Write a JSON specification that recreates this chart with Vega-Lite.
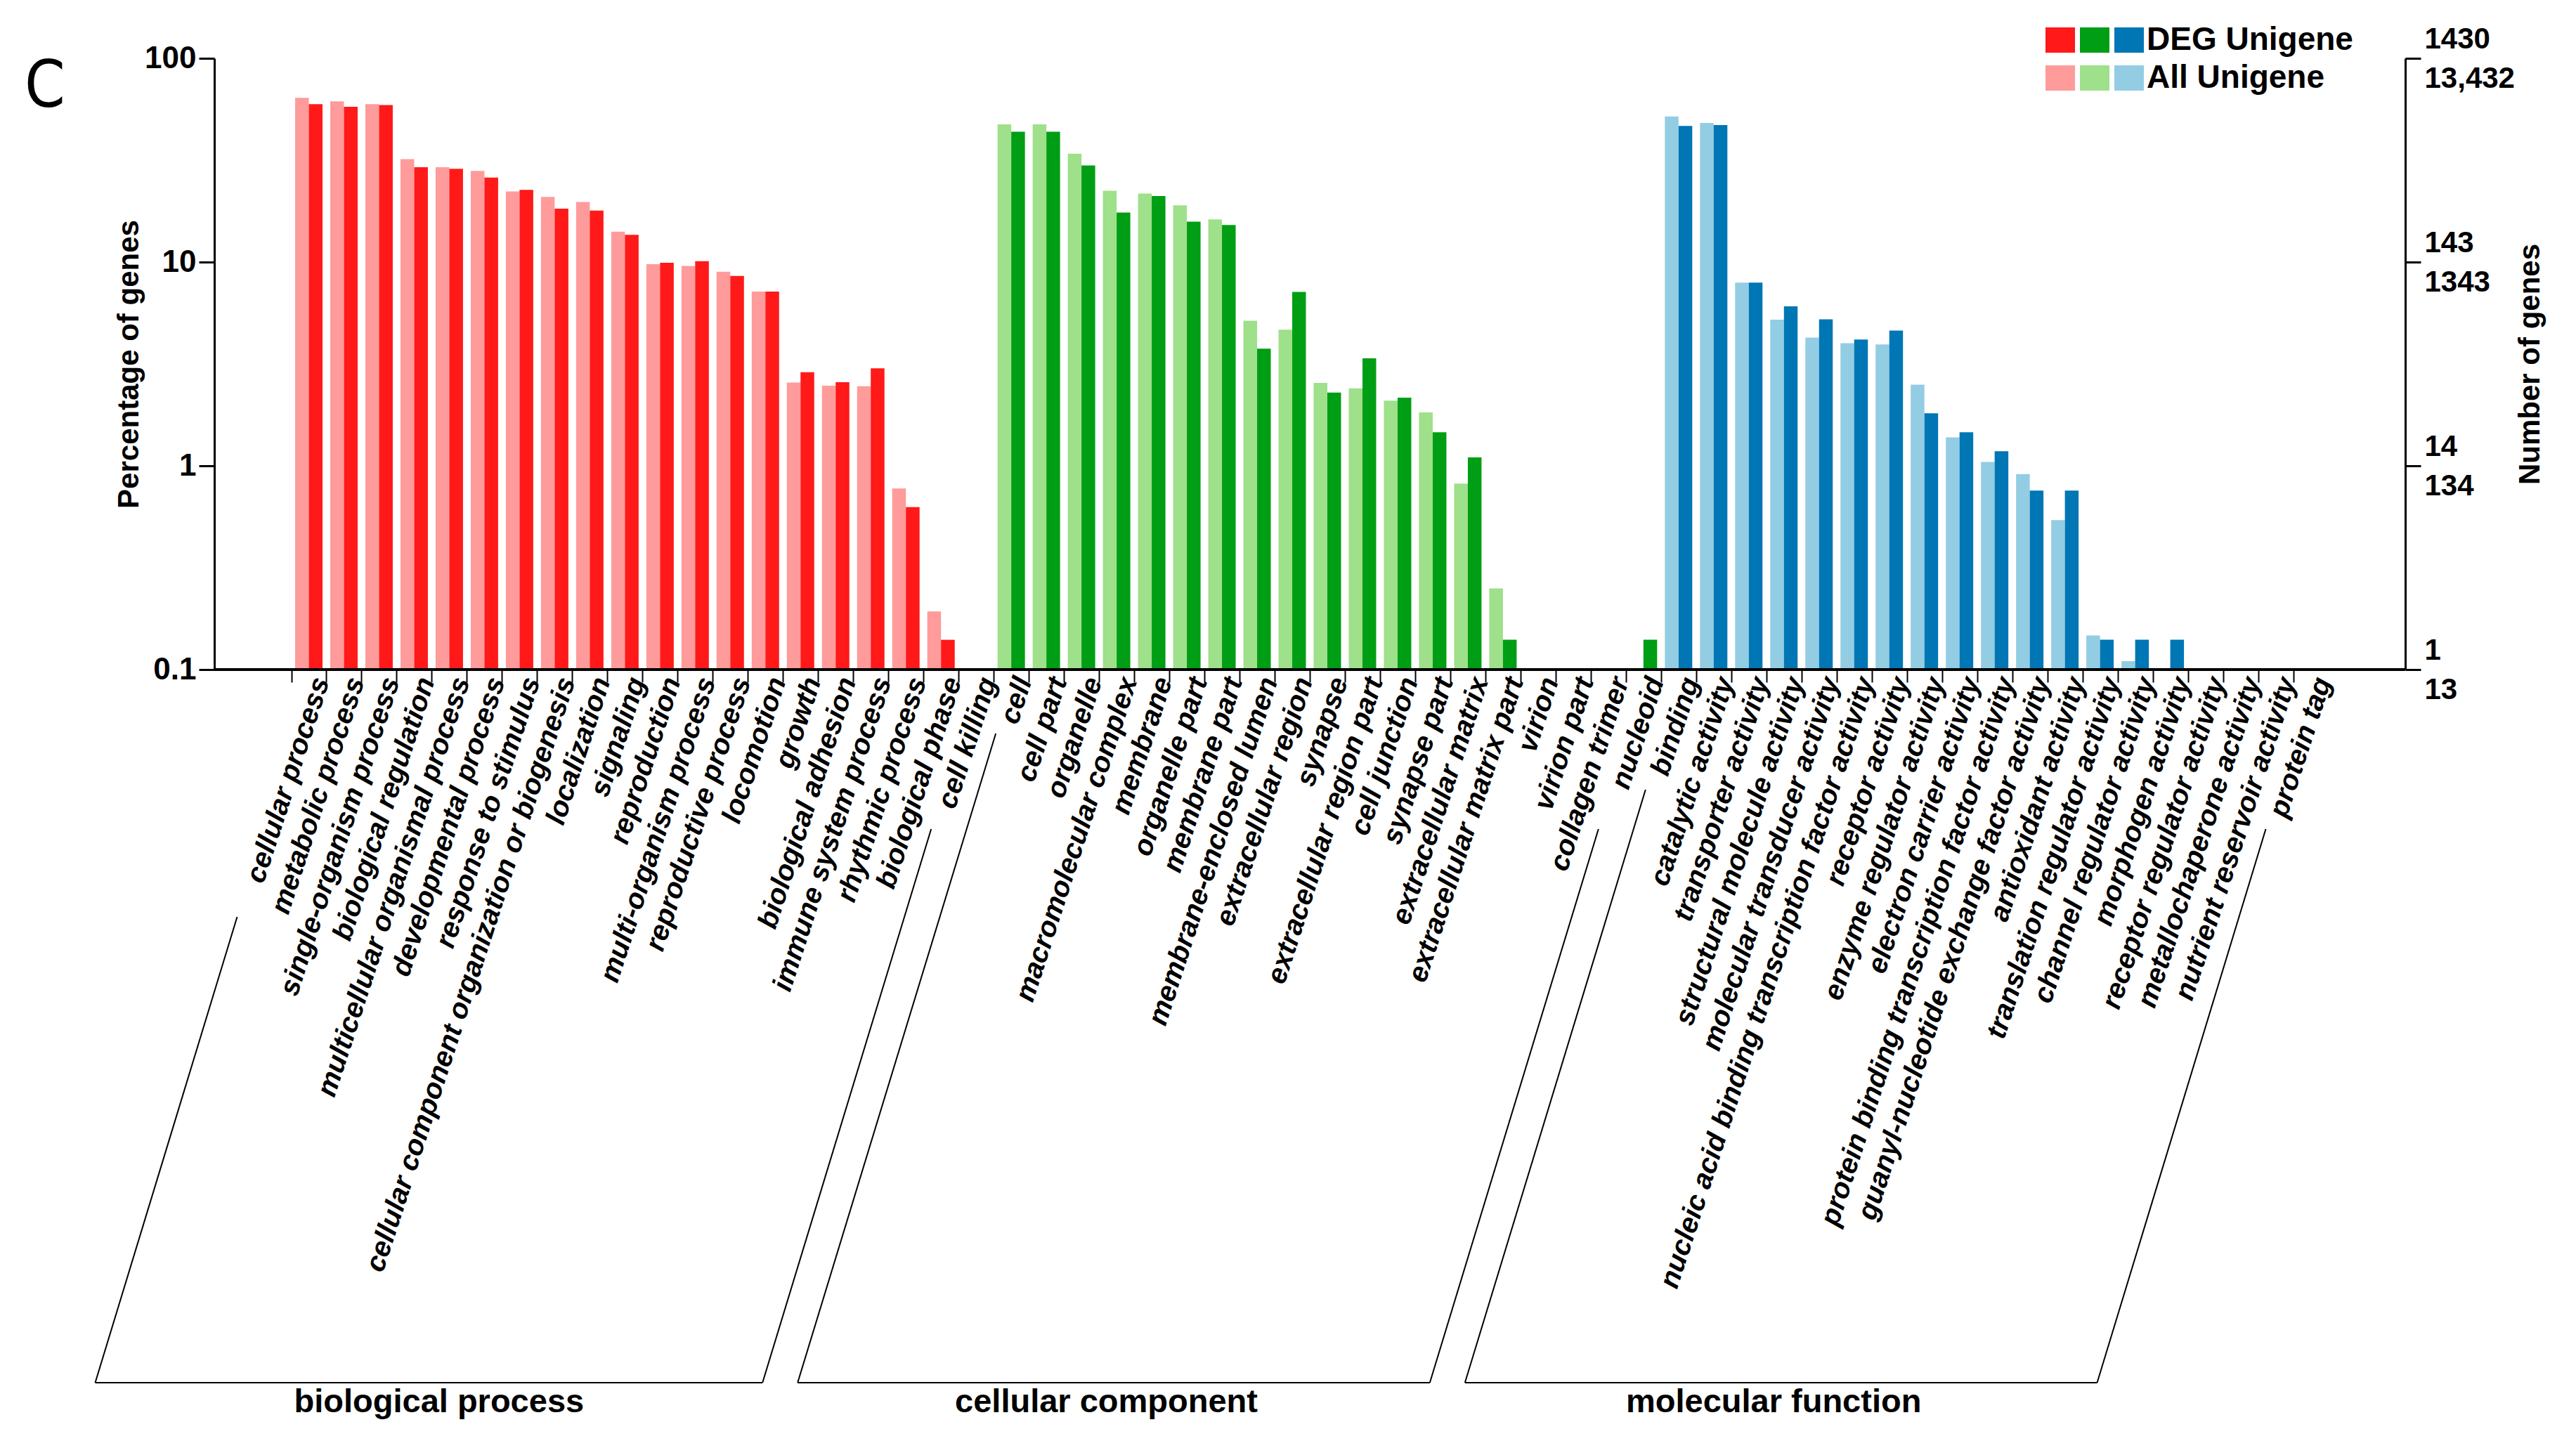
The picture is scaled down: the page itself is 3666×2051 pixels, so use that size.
{
  "$schema": "https://vega.github.io/schema/vega-lite/v6.json",
  "autosize": {"type": "none"},
  "width": 3118,
  "height": 870,
  "padding": {"left": 305, "top": 83, "right": 243, "bottom": 1098},
  "background": "white",
  "config": {"view": {"stroke": null}, "font": "Liberation Sans"},
  "title": {"text": "C", "anchor": "start", "frame": "group", "font": "DejaVu Sans Condensed", "fontSize": 92, "fontWeight": "normal", "color": "black", "baseline": "alphabetic", "offset": 0, "dx": -270, "dy": 210},
  "datasets": {
    "go": [
      {"term": "cellular process", "type": "All", "series": "BP All", "pct": 64.0},
      {"term": "cellular process", "type": "DEG", "series": "BP DEG", "pct": 59.6},
      {"term": "metabolic process", "type": "All", "series": "BP All", "pct": 61.5},
      {"term": "metabolic process", "type": "DEG", "series": "BP DEG", "pct": 57.8},
      {"term": "single-organism process", "type": "All", "series": "BP All", "pct": 59.6},
      {"term": "single-organism process", "type": "DEG", "series": "BP DEG", "pct": 59.0},
      {"term": "biological regulation", "type": "All", "series": "BP All", "pct": 32.0},
      {"term": "biological regulation", "type": "DEG", "series": "BP DEG", "pct": 29.2},
      {"term": "multicellular organismal process", "type": "All", "series": "BP All", "pct": 29.2},
      {"term": "multicellular organismal process", "type": "DEG", "series": "BP DEG", "pct": 28.7},
      {"term": "developmental process", "type": "All", "series": "BP All", "pct": 28.0},
      {"term": "developmental process", "type": "DEG", "series": "BP DEG", "pct": 26.0},
      {"term": "response to stimulus", "type": "All", "series": "BP All", "pct": 22.2},
      {"term": "response to stimulus", "type": "DEG", "series": "BP DEG", "pct": 22.6},
      {"term": "cellular component organization or biogenesis", "type": "All", "series": "BP All", "pct": 20.9},
      {"term": "cellular component organization or biogenesis", "type": "DEG", "series": "BP DEG", "pct": 18.3},
      {"term": "localization", "type": "All", "series": "BP All", "pct": 19.7},
      {"term": "localization", "type": "DEG", "series": "BP DEG", "pct": 17.9},
      {"term": "signaling", "type": "All", "series": "BP All", "pct": 14.1},
      {"term": "signaling", "type": "DEG", "series": "BP DEG", "pct": 13.6},
      {"term": "reproduction", "type": "All", "series": "BP All", "pct": 9.77},
      {"term": "reproduction", "type": "DEG", "series": "BP DEG", "pct": 9.92},
      {"term": "multi-organism process", "type": "All", "series": "BP All", "pct": 9.57},
      {"term": "multi-organism process", "type": "DEG", "series": "BP DEG", "pct": 10.1},
      {"term": "reproductive process", "type": "All", "series": "BP All", "pct": 8.96},
      {"term": "reproductive process", "type": "DEG", "series": "BP DEG", "pct": 8.55},
      {"term": "locomotion", "type": "All", "series": "BP All", "pct": 7.16},
      {"term": "locomotion", "type": "DEG", "series": "BP DEG", "pct": 7.16},
      {"term": "growth", "type": "All", "series": "BP All", "pct": 2.56},
      {"term": "growth", "type": "DEG", "series": "BP DEG", "pct": 2.88},
      {"term": "biological adhesion", "type": "All", "series": "BP All", "pct": 2.47},
      {"term": "biological adhesion", "type": "DEG", "series": "BP DEG", "pct": 2.57},
      {"term": "immune system process", "type": "All", "series": "BP All", "pct": 2.46},
      {"term": "immune system process", "type": "DEG", "series": "BP DEG", "pct": 3.01},
      {"term": "rhythmic process", "type": "All", "series": "BP All", "pct": 0.774},
      {"term": "rhythmic process", "type": "DEG", "series": "BP DEG", "pct": 0.627},
      {"term": "biological phase", "type": "All", "series": "BP All", "pct": 0.193},
      {"term": "biological phase", "type": "DEG", "series": "BP DEG", "pct": 0.14},
      {"term": "cell", "type": "All", "series": "CC All", "pct": 47.4},
      {"term": "cell", "type": "DEG", "series": "CC DEG", "pct": 43.6},
      {"term": "cell part", "type": "All", "series": "CC All", "pct": 47.4},
      {"term": "cell part", "type": "DEG", "series": "CC DEG", "pct": 43.6},
      {"term": "organelle", "type": "All", "series": "CC All", "pct": 34.0},
      {"term": "organelle", "type": "DEG", "series": "CC DEG", "pct": 29.8},
      {"term": "macromolecular complex", "type": "All", "series": "CC All", "pct": 22.4},
      {"term": "macromolecular complex", "type": "DEG", "series": "CC DEG", "pct": 17.5},
      {"term": "membrane", "type": "All", "series": "CC All", "pct": 21.7},
      {"term": "membrane", "type": "DEG", "series": "CC DEG", "pct": 21.1},
      {"term": "organelle part", "type": "All", "series": "CC All", "pct": 19.0},
      {"term": "organelle part", "type": "DEG", "series": "CC DEG", "pct": 15.8},
      {"term": "membrane part", "type": "All", "series": "CC All", "pct": 16.2},
      {"term": "membrane part", "type": "DEG", "series": "CC DEG", "pct": 15.2},
      {"term": "membrane-enclosed lumen", "type": "All", "series": "CC All", "pct": 5.15},
      {"term": "membrane-enclosed lumen", "type": "DEG", "series": "CC DEG", "pct": 3.76},
      {"term": "extracellular region", "type": "All", "series": "CC All", "pct": 4.66},
      {"term": "extracellular region", "type": "DEG", "series": "CC DEG", "pct": 7.13},
      {"term": "synapse", "type": "All", "series": "CC All", "pct": 2.55},
      {"term": "synapse", "type": "DEG", "series": "CC DEG", "pct": 2.29},
      {"term": "extracellular region part", "type": "All", "series": "CC All", "pct": 2.40},
      {"term": "extracellular region part", "type": "DEG", "series": "CC DEG", "pct": 3.37},
      {"term": "cell junction", "type": "All", "series": "CC All", "pct": 2.09},
      {"term": "cell junction", "type": "DEG", "series": "CC DEG", "pct": 2.16},
      {"term": "synapse part", "type": "All", "series": "CC All", "pct": 1.83},
      {"term": "synapse part", "type": "DEG", "series": "CC DEG", "pct": 1.46},
      {"term": "extracellular matrix", "type": "All", "series": "CC All", "pct": 0.818},
      {"term": "extracellular matrix", "type": "DEG", "series": "CC DEG", "pct": 1.10},
      {"term": "extracellular matrix part", "type": "All", "series": "CC All", "pct": 0.25},
      {"term": "extracellular matrix part", "type": "DEG", "series": "CC DEG", "pct": 0.14},
      {"term": "nucleoid", "type": "DEG", "series": "CC DEG", "pct": 0.14},
      {"term": "binding", "type": "All", "series": "MF All", "pct": 51.8},
      {"term": "binding", "type": "DEG", "series": "MF DEG", "pct": 46.6},
      {"term": "catalytic activity", "type": "All", "series": "MF All", "pct": 48.2},
      {"term": "catalytic activity", "type": "DEG", "series": "MF DEG", "pct": 47.0},
      {"term": "transporter activity", "type": "All", "series": "MF All", "pct": 7.93},
      {"term": "transporter activity", "type": "DEG", "series": "MF DEG", "pct": 7.93},
      {"term": "structural molecule activity", "type": "All", "series": "MF All", "pct": 5.21},
      {"term": "structural molecule activity", "type": "DEG", "series": "MF DEG", "pct": 6.07},
      {"term": "molecular transducer activity", "type": "All", "series": "MF All", "pct": 4.26},
      {"term": "molecular transducer activity", "type": "DEG", "series": "MF DEG", "pct": 5.24},
      {"term": "nucleic acid binding transcription factor activity", "type": "All", "series": "MF All", "pct": 4.00},
      {"term": "nucleic acid binding transcription factor activity", "type": "DEG", "series": "MF DEG", "pct": 4.17},
      {"term": "receptor activity", "type": "All", "series": "MF All", "pct": 3.94},
      {"term": "receptor activity", "type": "DEG", "series": "MF DEG", "pct": 4.61},
      {"term": "enzyme regulator activity", "type": "All", "series": "MF All", "pct": 2.50},
      {"term": "enzyme regulator activity", "type": "DEG", "series": "MF DEG", "pct": 1.81},
      {"term": "electron carrier activity", "type": "All", "series": "MF All", "pct": 1.38},
      {"term": "electron carrier activity", "type": "DEG", "series": "MF DEG", "pct": 1.46},
      {"term": "protein binding transcription factor activity", "type": "All", "series": "MF All", "pct": 1.045},
      {"term": "protein binding transcription factor activity", "type": "DEG", "series": "MF DEG", "pct": 1.18},
      {"term": "guanyl-nucleotide exchange factor activity", "type": "All", "series": "MF All", "pct": 0.911},
      {"term": "guanyl-nucleotide exchange factor activity", "type": "DEG", "series": "MF DEG", "pct": 0.756},
      {"term": "antioxidant activity", "type": "All", "series": "MF All", "pct": 0.541},
      {"term": "antioxidant activity", "type": "DEG", "series": "MF DEG", "pct": 0.756},
      {"term": "translation regulator activity", "type": "All", "series": "MF All", "pct": 0.147},
      {"term": "translation regulator activity", "type": "DEG", "series": "MF DEG", "pct": 0.14},
      {"term": "channel regulator activity", "type": "All", "series": "MF All", "pct": 0.11},
      {"term": "channel regulator activity", "type": "DEG", "series": "MF DEG", "pct": 0.14},
      {"term": "morphogen activity", "type": "DEG", "series": "MF DEG", "pct": 0.14}
    ],
    "groups": [
      {"group": "biological process", "first": "cellular process", "last": "cell killing", "mid": "reproduction"},
      {"group": "cellular component", "first": "cell", "last": "nucleoid", "mid": "synapse"},
      {"group": "molecular function", "first": "binding", "last": "protein tag", "mid": "protein binding transcription factor activity"}
    ],
    "bpStart": [{"group": "biological process", "first": "cellular process"}],
    "ccStart": [{"group": "cellular component", "first": "cell"}],
    "mfStart": [{"group": "molecular function", "first": "binding"}]
  },
  "data": {"name": "go"},
  "resolve": {"axis": {"x": "independent", "y": "independent"}},
  "layer": [
    {
      "mark": {"type": "bar", "clip": false},
      "encoding": {
        "x": {
          "field": "term", "type": "nominal",
          "scale": {"type": "band", "paddingInner": 0.22, "paddingOuter": 0, "range": [115, 3003], "domain": ["cellular process","metabolic process","single-organism process","biological regulation","multicellular organismal process","developmental process","response to stimulus","cellular component organization or biogenesis","localization","signaling","reproduction","multi-organism process","reproductive process","locomotion","growth","biological adhesion","immune system process","rhythmic process","biological phase","cell killing","cell","cell part","organelle","macromolecular complex","membrane","organelle part","membrane part","membrane-enclosed lumen","extracellular region","synapse","extracellular region part","cell junction","synapse part","extracellular matrix","extracellular matrix part","virion","virion part","collagen trimer","nucleoid","binding","catalytic activity","transporter activity","structural molecule activity","molecular transducer activity","nucleic acid binding transcription factor activity","receptor activity","enzyme regulator activity","electron carrier activity","protein binding transcription factor activity","guanyl-nucleotide exchange factor activity","antioxidant activity","translation regulator activity","channel regulator activity","morphogen activity","receptor regulator activity","metallochaperone activity","nutrient reservoir activity","protein tag"]},
          "axis": {
            "title": null, "bandPosition": 0, "tickOffset": -5.5, "labelOffset": 23,
            "labelAngle": -72, "labelAlign": "right", "labelBaseline": "middle",
            "labelFont": "Liberation Sans", "labelFontSize": 40, "labelFontWeight": "bold", "labelFontStyle": "italic",
            "labelColor": "black", "labelPadding": -6, "labelLimit": 3000, "labelOverlap": false, "labelFlush": false, "labelBound": false,
            "tickSize": 18, "tickWidth": 2, "tickColor": "black", "domain": false, "grid": false
          }
        },
        "xOffset": {"field": "type", "type": "nominal", "sort": ["All", "DEG"], "scale": {"paddingInner": 0, "paddingOuter": 0}},
        "y": {
          "field": "pct", "type": "quantitative",
          "scale": {"type": "log", "domain": [0.1, 100], "nice": false},
          "axis": {
            "title": "Percentage of genes", "values": [0.1, 1, 10, 100], "format": "~g",
            "labelFont": "Liberation Sans", "labelFontSize": 44, "labelFontWeight": "bold", "labelColor": "black", "labelPadding": 4,
            "titleFont": "Liberation Sans", "titleFontSize": 42, "titleFontWeight": "bold", "titleColor": "black", "titlePadding": 0,
            "tickSize": 22, "tickWidth": 3, "tickColor": "black", "domainColor": "black", "domainWidth": 3, "grid": false
          }
        },
        "y2": {"datum": 0.1},
        "color": {
          "field": "series", "type": "nominal",
          "scale": {"domain": ["BP DEG", "CC DEG", "MF DEG", "BP All", "CC All", "MF All"], "range": ["#FF1919", "#009E14", "#0076B5", "#FF9B9B", "#9FE08A", "#93CDE3"]},
          "legend": {
            "orient": "none", "legendX": 2604, "legendY": -49, "columns": 3, "direction": "horizontal", "title": null, "padding": 0,
            "symbolType": "M-1,-0.857H1V0.857H-1Z", "symbolSize": 1764, "symbolStrokeWidth": 0, "symbolOpacity": 1,
            "labelFont": "Liberation Sans", "labelFontSize": 46, "labelFontWeight": "bold", "labelColor": "black",
            "labelOffset": 2, "columnPadding": 1, "rowPadding": 8, "labelLimit": 1000,
            "labelExpr": "datum.label == 'MF DEG' ? '\u00a0DEG Unigene' : datum.label == 'MF All' ? '\u00a0All Unigene' : ''"
          }
        }
      }
    },
    {
      "mark": {"type": "point", "opacity": 0},
      "encoding": {
        "y": {
          "field": "pct", "type": "quantitative",
          "scale": {"type": "log", "domain": [0.1, 100], "nice": false},
          "axis": {
            "orient": "right", "title": "Number of genes", "values": [0.1, 1, 10, 100],
            "labelExpr": "datum.value >= 50 ? ['1430', '13,432'] : datum.value >= 5 ? ['143', '1343'] : datum.value >= 0.5 ? ['14', '134'] : ['1', '13']",
            "labelFont": "Liberation Sans", "labelFontSize": 42, "labelFontWeight": "bold", "labelColor": "black", "labelPadding": 5,
            "labelLineHeight": 56, "labelBaseline": "middle", "labelOffset": -28,
            "titleFont": "Liberation Sans", "titleFontSize": 42, "titleFontWeight": "bold", "titleColor": "black", "titlePadding": 2,
            "titleAngle": 270, "titleBaseline": "top",
            "tickSize": 22, "tickWidth": 3, "tickColor": "black", "domainColor": "black", "domainWidth": 3, "grid": false
          }
        }
      }
    },
    {
      "mark": {"type": "rule", "color": "black", "strokeWidth": 3},
      "encoding": {
        "y": {"datum": 0.1, "axis": null}
      }
    },
    {
      "data": {"name": "bpStart"},
      "mark": {"type": "rule", "color": "black", "strokeWidth": 2, "xOffset": -102, "x2Offset": -304, "clip": false},
      "encoding": {
        "x": {"field": "first", "type": "nominal", "bandPosition": 0.5, "axis": null,
          "scale": {"type": "band", "paddingInner": 0.22, "paddingOuter": 0, "range": [115, 3003]}},
        "x2": {"field": "first"},
        "y": {"datum": 0.006111, "axis": null},
        "y2": {"datum": 0.0000316228}
      }
    },
    {
      "data": {"name": "ccStart"},
      "mark": {"type": "rule", "color": "black", "strokeWidth": 2, "xOffset": -22, "x2Offset": -304, "clip": false},
      "encoding": {
        "x": {"field": "first", "type": "nominal", "bandPosition": 0.5, "axis": null,
          "scale": {"type": "band", "paddingInner": 0.22, "paddingOuter": 0, "range": [115, 3003]}},
        "x2": {"field": "first"},
        "y": {"datum": 0.048546, "axis": null},
        "y2": {"datum": 0.0000316228}
      }
    },
    {
      "data": {"name": "mfStart"},
      "mark": {"type": "rule", "color": "black", "strokeWidth": 2, "xOffset": -47, "x2Offset": -304, "clip": false},
      "encoding": {
        "x": {"field": "first", "type": "nominal", "bandPosition": 0.5, "axis": null,
          "scale": {"type": "band", "paddingInner": 0.22, "paddingOuter": 0, "range": [115, 3003]}},
        "x2": {"field": "first"},
        "y": {"datum": 0.025724, "axis": null},
        "y2": {"datum": 0.0000316228}
      }
    },
    {
      "data": {"name": "groups"},
      "mark": {"type": "rule", "color": "black", "strokeWidth": 2, "xOffset": -64, "x2Offset": -304, "clip": false},
      "encoding": {
        "x": {"field": "last", "type": "nominal", "bandPosition": 0.5, "axis": null,
          "scale": {"type": "band", "paddingInner": 0.22, "paddingOuter": 0, "range": [115, 3003]}},
        "x2": {"field": "last"},
        "y": {"datum": 0.01649, "axis": null},
        "y2": {"datum": 0.0000316228}
      }
    },
    {
      "data": {"name": "groups"},
      "mark": {"type": "rule", "color": "black", "strokeWidth": 2, "xOffset": -304, "x2Offset": -304, "clip": false},
      "encoding": {
        "x": {"field": "first", "type": "nominal", "bandPosition": 0.5, "axis": null,
          "scale": {"type": "band", "paddingInner": 0.22, "paddingOuter": 0, "range": [115, 3003]}},
        "x2": {"field": "last"},
        "y": {"datum": 0.0000316228, "axis": null}
      }
    },
    {
      "data": {"name": "groups"},
      "mark": {"type": "text", "font": "Liberation Sans", "fontSize": 47, "fontWeight": "bold", "color": "black", "align": "center", "baseline": "alphabetic", "xOffset": -295, "yOffset": 42, "clip": false},
      "encoding": {
        "x": {"field": "mid", "type": "nominal", "bandPosition": 0, "axis": null,
          "scale": {"type": "band", "paddingInner": 0.22, "paddingOuter": 0, "range": [115, 3003]}},
        "y": {"datum": 0.0000316228, "axis": null},
        "text": {"field": "group"}
      }
    }
  ]
}
